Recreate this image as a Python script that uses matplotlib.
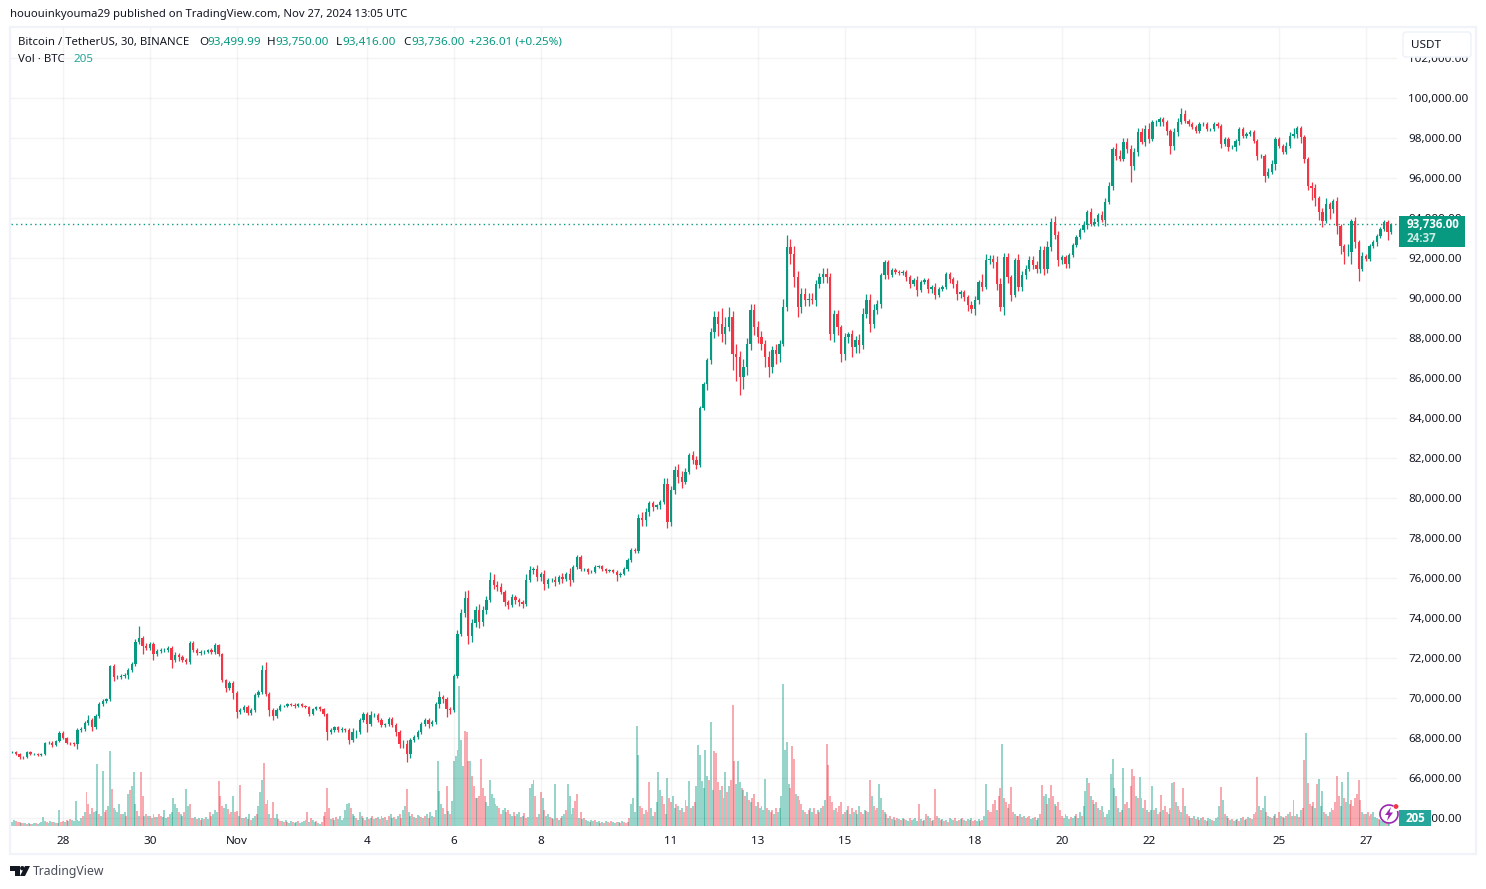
import numpy as np
import pandas as pd
import matplotlib
matplotlib.use("Agg")
import matplotlib.pyplot as plt
import matplotlib.dates as mdates
from matplotlib.patches import Arc, Circle, FancyBboxPatch, Polygon, Rectangle

plt.rcParams['font.family'] = ['Noto Sans', 'DejaVu Sans']

# 2 hour candles, in thousand USDT, first candle Oct 26 20:00
closes = [
    67.3, 67.2,
    67.08, 67.05, 67.3, 67.2, 67.2, 67.18, 67.2, 67.78, 67.78, 67.68, 67.85, 68.25,
    68.0, 67.78, 67.75, 67.72, 68.4, 68.45, 68.75, 68.9, 68.55, 69.1, 69.7, 69.85,
    69.95, 71.6, 71.05, 71.05, 71.1, 71.15, 71.4, 71.7, 72.8, 73.0, 72.6, 72.5,
    72.7, 72.2, 72.35, 72.4, 72.4, 72.5, 71.9, 72.15, 72.05, 71.9, 71.8, 72.75,
    72.4, 72.25, 72.3, 72.3, 72.4, 72.3, 72.65, 72.2, 70.9, 70.5, 70.75, 70.25,
    69.3, 69.4, 69.55, 69.25, 69.4, 70.15, 70.3, 71.4, 70.2, 69.4, 69.1, 69.4,
    69.6, 69.6, 69.7, 69.65, 69.6, 69.73, 69.6, 69.57, 69.23, 69.48, 69.57, 69.48,
    69.23, 68.32, 68.4, 68.57, 68.4, 68.48, 68.4, 67.9, 68.32, 68.32, 68.9, 69.23,
    68.73, 69.15, 69.15, 68.9, 68.65, 68.73, 68.98, 68.65, 68.32, 67.73, 67.73, 67.23,
    67.9, 68.07, 68.32, 68.73, 68.9, 68.73, 68.82, 69.73, 70.07, 69.98, 69.48, 69.4,
    71.1, 73.2, 74.25, 75.0, 73.1, 73.75, 74.4, 73.8, 74.4, 74.9, 75.9, 75.65,
    75.57, 75.32, 74.8, 74.65, 75.07, 74.9, 74.8, 74.73, 75.9, 76.4, 76.48, 76.07,
    76.23, 75.73, 75.9, 75.9, 75.82, 76.07, 75.98, 76.23, 75.9, 76.57, 77.07, 76.48,
    76.48, 76.32, 76.32, 76.57, 76.6, 76.48, 76.37, 76.4, 76.32, 76.15, 76.23, 76.48,
    76.9, 77.4, 77.35, 79.0, 78.9, 79.3, 79.75, 79.55, 79.65, 79.8, 80.7, 78.8,
    80.4, 81.4, 81.07, 80.82, 81.32, 82.15, 81.9, 81.65, 84.5, 85.7, 86.9, 88.3,
    89.07, 88.73, 88.2, 88.57, 89.07, 87.23, 87.07, 86.07, 86.57, 87.73, 89.4, 88.57,
    88.07, 87.73, 87.07, 86.57, 87.4, 87.23, 87.73, 89.57, 92.57, 92.23, 91.07, 89.57,
    90.23, 89.9, 89.98, 89.9, 90.73, 91.07, 91.23, 91.07, 88.23, 89.23, 88.57, 87.23,
    88.07, 88.23, 87.57, 87.9, 87.65, 89.23, 89.9, 88.73, 89.4, 89.73, 91.15, 91.82,
    91.15, 91.4, 91.3, 91.25, 91.3, 91.07, 90.73, 90.9, 90.4, 90.82, 90.9, 90.48,
    90.57, 90.15, 90.48, 90.57, 91.23, 90.98, 90.73, 90.23, 90.32, 90.07, 89.65, 89.48,
    89.9, 90.82, 90.57, 91.9, 91.98, 91.82, 90.73, 89.57, 92.07, 91.07, 90.15, 91.9,
    90.57, 91.15, 91.48, 91.9, 91.65, 91.48, 92.4, 91.48, 92.57, 93.82, 93.15, 91.9,
    92.07, 91.73, 92.15, 92.65, 93.07, 93.4, 93.65, 94.32, 93.73, 93.82, 94.15, 93.9,
    94.8, 95.63, 97.47, 97.13, 96.97, 97.8, 97.47, 96.63, 97.3, 98.3, 97.8, 98.47,
    97.97, 98.8, 98.8, 98.97, 98.8, 98.38, 97.63, 98.3, 98.8, 99.22, 98.88, 98.72,
    98.55, 98.38, 98.72, 98.72, 98.47, 98.47, 98.72, 98.63, 97.72, 97.97, 97.55, 97.55,
    97.88, 98.47, 98.13, 98.22, 98.3, 97.88, 97.13, 97.13, 96.13, 96.3, 96.72, 97.97,
    97.63, 97.3, 97.63, 98.13, 98.22, 98.5, 98.05, 96.97, 95.6, 95.5, 95.0, 94.3,
    93.88, 94.72, 94.47, 94.88, 93.63, 92.63, 92.3, 92.3, 93.88, 92.8, 91.47, 92.13,
    91.97, 92.63, 92.8, 93.13, 93.47, 93.8, 93.3, 93.74,
]
# how far each wick goes past the body, same units
high_wicks = [
    .05, .05,
    .05, .05, .05, .05, .05, .05, .05, .05, .1, .1, .05, .1,
    .1, .05, .05, .05, .1, .1, .1, .25, .1, .1, .1, .1,
    .05, .05, .1, .1, .1, .1, .1, .1, .15, .6, .1, .15,
    .1, .1, .1, .1, .1, .1, .1, .15, .1, .1, .1, .1,
    .1, .1, .1, .1, .05, .1, .1, .05, .05, .05, .1, .1,
    .1, .1, .1, .1, .1, .1, .1, .25, .4, .1, .1, .1,
    .1, .05, .05, .05, .1, .05, .05, .05, .05, .05, .05, .05,
    .05, .05, .1, .05, .05, .1, .05, .1, .2, .1, .1, .1,
    .1, .2, .1, .1, .1, .05, .1, .1, .1, .1, .2, .2,
    .1, .1, .1, .1, .1, .1, .1, .1, .3, .1, .1, .1,
    .1, .2, .2, .35, .4, .2, .2, .3, .2, .2, .4, .3,
    .2, .2, .1, .1, .15, .1, .1, .1, .3, .2, .1, .2,
    .1, .2, .1, .1, .2, .1, .2, .1, .3, .1, .1, .1,
    .05, .05, .1, .1, .05, .05, .05, .05, .05, .1, .1, .1,
    .1, .1, .1, .2, .3, .2, .1, .1, .05, .1, .3, .3,
    .2, .2, .3, .3, .2, .1, .2, .2, .1, .1, .1, .2,
    .3, .3, .8, .5, .5, .3, .5, .3, .4, .3, .3, .3,
    .3, .3, .2, .3, .2, .3, .2, .4, .6, .4, .4, .3,
    .3, .3, .3, .3, .2, .2, .3, .3, .2, .2, .2, .1,
    .2, .1, .2, .2, .3, .3, .3, .3, .3, .2, .1, .1,
    .1, .1, .1, .1, .1, .1, .1, .1, .2, .1, .1, .1,
    .1, .2, .1, .1, .1, .1, .1, .2, .1, .1, .1, .2,
    .2, .1, .4, .3, .2, .2, .3, .3, .2, .2, .1, .1,
    .3, .2, .2, .2, .2, .2, .2, .2, .3, .2, .3, .2,
    .1, .1, .1, .1, .1, .1, .2, .1, .2, .2, .1, .2,
    .2, .2, .1, .3, .3, .2, .2, .2, .2, .2, .2, .2,
    .3, .1, .1, .1, .1, .1, .1, .2, .2, .3, .2, .1,
    .1, .1, .1, .1, .1, .05, .1, .1, .1, .1, .1, .1,
    .1, .1, .1, .1, .1, .1, .1, .1, .1, .2, .2, .1,
    .1, .1, .2, .2, .3, .1, .1, .1, .1, .2, .2, .1,
    .2, .3, .1, .1, .2, .1, .1, .4, .1, .2, .1, .2,
    .1, .1, .1, .1, .1, .1, .1, .05,
]
low_wicks = [
    .05, .05,
    .1, .08, .05, .05, .05, .08, .05, .05, .05, .1, .05, .05,
    .05, .08, .1, .1, .25, .1, .1, .1, .2, .1, .1, .1,
    .1, .1, .2, .1, .1, .1, .2, .1, .1, .1, .4, .1,
    .1, .3, .1, .1, .1, .1, .4, .1, .2, .1, .1, .1,
    .1, .1, .1, .1, .05, .1, .1, .1, .1, .2, .1, .3,
    .3, .1, .1, .1, .1, .1, .1, .1, .1, .3, .2, .1,
    .05, .05, .05, .05, .1, .05, .05, .05, .1, .05, .05, .1,
    .1, .4, .1, .1, .1, .1, .1, .2, .1, .3, .1, .1,
    .4, .1, .1, .1, .1, .1, .1, .1, .2, .2, .2, .4,
    .2, .1, .1, .1, .1, .2, .1, .1, .2, .2, .4, .2,
    .1, .1, .1, .2, .4, .3, .2, .3, .2, .2, .1, .2,
    .2, .1, .2, .2, .1, .2, .2, .2, .1, .1, .2, .2,
    .2, .3, .2, .1, .2, .1, .2, .1, .3, .1, .1, .1,
    .1, .1, .05, .05, .05, .1, .1, .05, .05, .3, .1, .05,
    .1, .1, .1, .1, .3, .3, .2, .2, .1, .2, .1, .3,
    .2, .2, .3, .3, .1, .1, .2, .2, .1, .1, .3, .2,
    .3, .6, .4, .5, .2, .8, 1.2, .9, .6, .4, .3, .4,
    .3, .3, .5, .5, .3, .5, .4, .1, .2, .5, .5, .5,
    .3, .3, .3, .2, .3, .2, .3, .3, .3, .4, .4, .4,
    .3, .3, .5, .3, .4, .2, .2, .4, .2, .2, .2, .2,
    .2, .1, .1, .1, .1, .2, .2, .1, .3, .1, .1, .2,
    .2, .2, .1, .1, .1, .2, .2, .3, .2, .2, .3, .2,
    .3, .2, .2, .1, .2, .3, .3, .2, .4, .3, .3, .1,
    .2, .2, .2, .1, .2, .2, .2, .3, .2, .2, .2, .3,
    .2, .2, .2, .1, .1, .1, .1, .2, .1, .1, .2, .1,
    .3, .1, .2, .2, .1, .1, .2, .8, .2, .2, .1, .2,
    .2, .1, .2, .2, .2, .2, .4, .2, .2, .1, .1, .1,
    .1, .1, .1, .1, .1, .1, .1, .1, .2, .1, .2, .1,
    .2, .2, .1, .1, .1, .1, .2, .1, .3, .1, .1, .3,
    .1, .1, .1, .1, .1, .2, .3, .2, .2, .6, .4, .4,
    .3, .1, .5, .2, .4, .4, .6, .2, .6, .3, .6, .1,
    .1, .1, .1, .2, .1, .1, .4, .1,
]

# hourly volume per day, plus = green bar, minus = red bar, first row is Oct 26 from 20:00
volumes_by_day = [
    [4, 6, -5, -4],
    [-4, 3, -3, 3, -2, 3, -2, 2, 3, -3, 2, 3, 4, 9, 5, -4, 3, 5, -4, 4, -3, 3, 16, -4],
    [-5, 4, -6, 5, -7, 6, 5, 25, 6, 5, 8, -10, 14, -34, -22, 12, -18, 14, 15, 62, -12, 10, 55, -14],
    [-16, 20, 75, -37, 18, -16, 14, 22, -12, 12, 14, -10, 32, -36, 40, 54, 22, -15, 10, -54, -30, 10, -12, 10],
    [-10, 8, -12, -9, 9, -12, -10, 9, 16, 8, -9, 12, 14, 28, 22, 18, -14, 12, 10, -14, 37, 20, -22, -8],
    [-8, 9, -7, 8, -6, 8, -7, 9, 7, -14, -10, 12, 16, 14, -45, -30, -20, 18, 22, -17, -12, -14, 30, -14],
    [-15, 10, -41, 8, -8, 9, -7, 12, -6, 8, 10, -12, 20, 34, 46, -63, -22, -26, 12, -8, -24, 8, 12, -7],
    [-5, 5, -4, 6, -4, 3, 5, -4, 3, 4, -5, 3, 4, 5, -6, -14, 4, -8, 6, 4, -5, 3, 2, -4],
    [-10, -14, -38, -18, 7, -8, 6, -9, 7, 10, 6, -8, 16, 22, 23, -18, 12, 10, -8, 6, 14, -10, 8, -6],
    [9, -7, 8, -10, 7, -8, 9, -7, 10, 8, -9, 6, -10, 12, 8, -9, 7, 10, -12, -8, 16, 20, -37, 14],
    [10, -12, 9, -8, 11, 10, -9, 8, -10, 12, -8, 14, 10, -9, 16, 65, 35, 22, -18, 12, -40, 15, -12, 25],
    [65, 70, 76, 140, 86, 60, -95, -94, -65, 65, -50, -40, -28, 28, -30, -67, -38, -30, 24, 20, 46, 32, 28, -22],
    [20, -18, -12, 16, 18, -14, -16, 12, 10, -14, -10, 12, 14, -9, 10, -13, -8, 9, 38, 42, 46, -30, -9, 12],
    [-34, 28, -16, 10, 12, -9, 8, -7, 42, -8, 6, -8, 10, 12, -16, 42, 30, -12, 18, -25, -32, 8, -14, 7],
    [-8, 6, 5, -4, 6, 5, -6, 4, 5, -3, 4, -3, 5, -4, 3, -5, 4, 3, -4, 4, -3, 5, -4, -3],
    [4, -8, 22, 28, 14, 100, 71, -20, -18, 12, -16, -14, -44, 18, 10, -14, 24, 54, 36, -30, -22, 12, 48, -28],
    [-24, 30, 18, -22, 20, -16, 18, -14, 26, -20, 45, -18, 20, -24, 40, 81, 71, 45, 38, 76, 50, -46, 104, 36],
    [-75, -73, -44, 36, -40, 28, 54, -34, 40, -46, -121, -65, 42, 65, 44, -38, 36, -30, 34, -26, 24, -28, -32, 20],
    [-24, 18, -20, 16, 47, -18, 16, -14, -16, 12, -18, 14, 18, 30, 142, 76, 84, 42, -38, -80, -67, 32, -30, 26],
    [-22, 16, -14, 12, -16, 18, 14, -18, -12, 16, -14, 18, -20, 26, -82, -61, -30, -24, 16, -18, 14, -20, -24, 12],
    [-14, 16, -20, 12, -18, 14, -16, 12, 20, -14, -12, 16, -15, 14, -46, 30, -20, 16, -18, 42, 28, -16, 14, -12],
    [8, -10, 7, -9, 6, -8, 7, -6, 8, -7, 6, 5, -8, 6, -7, 8, 5, -22, 7, -5, 6, -12, 10, -8],
    [-5, 6, -37, -10, 8, -6, 7, -5, 6, -4, 8, -7, 6, -8, 5, -6, 7, -8, 6, -5, 7, -6, 8, -5],
    [-6, 5, 7, -5, -6, 10, 42, -16, 14, -14, -22, -26, 16, -30, -38, 82, -28, -24, 18, -22, -39, -14, 12, -10],
    [-10, 12, -9, 10, -8, 9, -10, 7, 8, -9, 6, 8, -12, -41, 30, 32, -22, 28, -41, -30, 22, -20, -24, -16],
    [-10, 8, -12, 10, 7, -9, 8, 10, -12, 8, 14, -10, 20, 35, 48, -43, 30, -26, 22, -24, 18, -16, 20, -14],
    [-9, 12, 16, 52, 67, 38, -30, 18, -14, 16, 58, -22, -24, 18, -40, -57, -50, 30, -28, 49, -28, 18, -26, 16],
    [-14, 16, 40, -16, 18, -12, 14, -31, 16, -20, -14, 12, -18, 43, -44, 24, -20, -16, 14, -38, 20, -12, -10, 8],
    [-8, 10, -7, 9, -6, 8, -9, 6, -5, 8, 7, -6, 5, 8, -9, 20, -39, 26, -12, 10, -8, 6, -7, 5],
    [-6, 7, -5, 8, -9, 6, -7, 9, -8, 7, -12, -14, -49, 20, -16, 18, 30, -14, 10, -9, 8, -10, 12, -8],
    [-14, 10, -9, 8, -10, 12, -14, 10, 26, -10, 12, -9, 16, -18, -66, 93, -43, -22, 20, -24, 18, -42, 47, 20],
    [35, -14, 12, -10, 14, -18, -16, -24, -50, -30, 20, 44, -28, 24, 54, -22, -26, -20, -28, -32, -46, -26, 14, -12],
    [12, -14, 10, -12, 14, 9, 8, -7, 6, 5, 4, -3, 3, 2],
]

price_ticks = [64, 66, 68, 70, 72, 74, 76, 78, 80, 82, 84, 86, 88, 90, 92, 94, 96, 98, 100, 102]
date_ticks = ['2024-10-28', '2024-10-30', '2024-11-01', '2024-11-04', '2024-11-06', '2024-11-08', '2024-11-11',
              '2024-11-13', '2024-11-15', '2024-11-18', '2024-11-20', '2024-11-22', '2024-11-25', '2024-11-27']
date_labels = ['28', '30', 'Nov', '4', '6', '8', '11', '13', '15', '18', '20', '22', '25', '27']
last_close = 93.736

GREEN = '#089981'
RED = '#F23645'
TEXT = '#131722'
BORDER = '#F0F3FA'
W, H = 1486, 889
PANE_L, PANE_R, PANE_T, PANE_B = 11, 1397, 28, 826
FS = 8.4

fig = plt.figure(figsize=(W / 100, H / 100), dpi=100, facecolor='white')
pane_rect = [PANE_L / W, 1 - PANE_B / H, (PANE_R - PANE_L) / W, (PANE_B - PANE_T) / H]

# volume sits under the price axes, one unit is about one pixel
ax_vol = fig.add_axes(pane_rect, zorder=1)
ax = fig.add_axes(pane_rect, zorder=2)
ax.patch.set_visible(False)

px_per_day = 43.43
x28 = mdates.date2num(pd.Timestamp('2024-10-28'))
xlim = (x28 + (PANE_L - 63) / px_per_day, x28 + (PANE_R - 63) / px_per_day)

# volume bars
first_day = mdates.date2num(pd.Timestamp('2024-10-26'))
for d, row in enumerate(volumes_by_day):
    start = 24 - len(row) if d == 0 else 0
    for i, v in enumerate(row):
        ax_vol.bar(first_day + d + (start + i) / 24, abs(v), width=1.95 / px_per_day,
                   color=GREEN if v > 0 else RED, alpha=0.42, linewidth=0)
ax_vol.set_xlim(xlim)
ax_vol.set_ylim(0, PANE_B - PANE_T)
ax_vol.axis('off')

# candles
times = mdates.date2num(pd.date_range('2024-10-26 20:00', periods=len(closes), freq='2h'))
closes_arr = np.array(closes)
opens_arr = np.r_[closes_arr[0], closes_arr[:-1]]
colors = [GREEN if c >= o else RED for o, c in zip(opens_arr, closes_arr)]
tops = np.maximum(opens_arr, closes_arr)
bottoms = np.minimum(opens_arr, closes_arr)
ax.vlines(times, bottoms - np.array(low_wicks), tops + np.array(high_wicks), colors=colors, linewidth=0.9, zorder=3)
ax.bar(times, tops - bottoms, bottom=bottoms, width=2.3 / px_per_day, color=colors, linewidth=0, zorder=3)

# y = 98.3 px is 100k, 20 px per 1000
ax.set_ylim(100 - (PANE_B - 98.3) / 20, 100 + (98.3 - PANE_T) / 20)
ax.set_xlim(xlim)

ax.axhline(last_close, color=GREEN, linewidth=1, linestyle=(0, (1, 2.4)), zorder=2)

ax.set_xticks(mdates.date2num(pd.to_datetime(date_ticks)))
ax.set_xticklabels(date_labels, fontsize=FS, color=TEXT)
ax.yaxis.tick_right()
ax.set_yticks(price_ticks)
ax.set_yticklabels([f'{p * 1000:,.2f}' for p in price_ticks], fontsize=FS, color=TEXT)
ax.tick_params(axis='both', length=0)
ax.tick_params(axis='x', pad=7)
ax.tick_params(axis='y', pad=8)
ax.grid(True, color='#2A2E39', alpha=0.05, linewidth=1)
ax.set_axisbelow(True)
for s in ax.spines.values():
    s.set_visible(False)

# overlay in pixels for the TradingView furniture
ov = fig.add_axes([0, 0, 1, 1], zorder=3)
ov.set_xlim(0, W)
ov.set_ylim(H, 0)
ov.axis('off')

ov.add_patch(Rectangle((10, 27), 1466, 827, fill=False, edgecolor=BORDER, linewidth=1.6))

ov.text(10, 15, 'hououinkyouma29 published on TradingView.com, Nov 27, 2024 13:05 UTC', fontsize=8.1, color=TEXT, va='center')

ov.text(18, 42.5, 'Bitcoin / TetherUS, 30, BINANCE', fontsize=8.2, color=TEXT, va='center')
for x, x_val, letter, val in [(199, 207, 'O', '93,499.99'), (267, 275, 'H', '93,750.00'),
                              (336, 342, 'L', '93,416.00'), (403, 411, 'C', '93,736.00')]:
    ov.text(x, 42.5, letter, fontsize=FS, color=TEXT, va='center')
    ov.text(x_val, 42.5, val, fontsize=FS, color=GREEN, va='center')
ov.text(469, 42.5, '+236.01 (+0.25%)', fontsize=FS, color=GREEN, va='center')
ov.text(18, 59.5, 'Vol · BTC', fontsize=8.2, color=TEXT, va='center')
ov.text(74, 59.5, '205', fontsize=FS, color='#26A69A', va='center')

# USDT button
ov.add_patch(FancyBboxPatch((1403, 32), 68, 25, boxstyle='round,pad=0,rounding_size=3', facecolor='white', edgecolor=BORDER, linewidth=1.2))
ov.text(1411, 45, 'USDT', fontsize=FS, color=TEXT, va='center')

# last price tag
ov.add_patch(Rectangle((1399, 216), 66, 31, facecolor=GREEN, edgecolor='none'))
ov.text(1407, 224.5, '93,736.00', fontsize=FS, color='white', va='center', family='Open Sans', fontweight='bold')
ov.text(1407, 238.5, '24:37', fontsize=FS, color='#CDEBE5', va='center', family='Open Sans', fontweight='bold')

# volume tag
ov.add_patch(Rectangle((1399, 810), 32, 16, facecolor='#26A69A', edgecolor='none'))
ov.text(1415, 818.5, '205', fontsize=FS, color='white', va='center', ha='center', family='Open Sans', fontweight='bold')

# purple bolt icon
ov.add_patch(Circle((1389, 814), 9, facecolor='white', edgecolor='none', alpha=0.9))
ov.add_patch(Arc((1389, 814), 18, 18, theta1=-20, theta2=300, edgecolor='#9C27B0', linewidth=1.2))
ov.add_patch(Polygon([(1391, 807), (1385, 815), (1388.5, 815), (1387, 821), (1393, 812.5), (1389.5, 812.5)], facecolor='#9C27B0', edgecolor='none'))
ov.add_patch(Circle((1396, 806.5), 2.4, facecolor=RED, edgecolor='none'))

# TradingView logo and name
logo = '#131722'
ov.add_patch(Polygon([(10, 866), (20, 866), (20, 876), (15, 876), (15, 870.5), (10, 870.5)], facecolor=logo, edgecolor='none'))
ov.add_patch(Circle((22.3, 868.2), 2.2, facecolor=logo, edgecolor='none'))
ov.add_patch(Polygon([(25, 866), (30, 866), (25, 876), (20, 876)], facecolor=logo, edgecolor='none'))
ov.text(33, 871.5, 'TradingView', fontsize=8.8, color='#4A4E5A', va='center')

fig.savefig('out.png', dpi=100)
